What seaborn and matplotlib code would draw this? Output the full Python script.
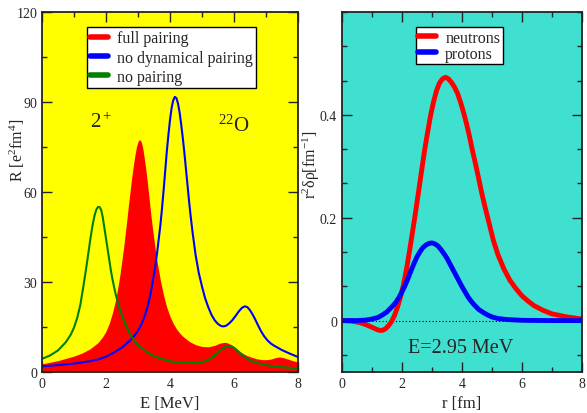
import numpy as np
import pandas as pd
import matplotlib
matplotlib.use('Agg')
import matplotlib.pyplot as plt
import matplotlib.ticker as mt
from matplotlib.lines import Line2D
import seaborn as sns

# left panel: strength functions R(E) for 22O, 2+
E_full = [0, 0.5, 1.0, 1.25, 1.5, 1.75, 1.9, 2.0, 2.1, 2.2, 2.3, 2.4, 2.45, 2.5, 2.55, 2.6,
          2.65, 2.7, 2.75, 2.8, 2.85, 2.9, 2.95, 3.0, 3.05, 3.1, 3.15, 3.2, 3.25, 3.3, 3.35,
          3.4, 3.45, 3.5, 3.55, 3.6, 3.65, 3.7, 3.8, 3.9, 4.0, 4.1, 4.2, 4.3, 4.4, 4.6, 4.8,
          5.0, 5.2, 5.4, 5.55, 5.7, 5.8, 5.93, 6.05, 6.15, 6.29, 6.4, 6.5, 6.71, 6.9, 7.0,
          7.15, 7.3, 7.4, 7.5, 7.6, 7.8, 8.0]
R_full = [2.7, 3.8, 5.3, 6.3, 7.7, 9.8, 11.8, 13.6, 16.2, 19.6, 24, 30, 33.5, 37.5, 41.5, 46,
          50.5, 55.5, 60, 64.5, 68.5, 72, 75, 76.8, 77.5, 76.8, 74.5, 71, 67, 62.5, 57.5,
          52.5, 48, 44, 40, 36.5, 33.5, 30.5, 25.5, 21.5, 18.5, 16.2, 14.4, 13.0, 11.9, 10.2, 9.1,
          8.5, 8.4, 8.9, 9.6, 9.9, 9.7, 9.0, 8.0, 7.1, 6.1, 5.5, 5.1, 4.4, 4.1, 4.1,
          4.3, 4.8, 5.0, 4.9, 4.6, 3.9, 3.3]

E_nodyn = [0, 0.5, 1.0, 1.5, 1.75, 2.0, 2.25, 2.5, 2.75, 2.9, 3.0, 3.1, 3.2, 3.3, 3.4, 3.5,
           3.55, 3.6, 3.65, 3.7, 3.75, 3.8, 3.85, 3.9, 3.95, 4.0, 4.05, 4.1, 4.15, 4.2, 4.25,
           4.3, 4.35, 4.4, 4.45, 4.5, 4.55, 4.6, 4.65, 4.7, 4.75, 4.8, 4.9, 5.0, 5.1, 5.2,
           5.3, 5.4, 5.5, 5.6, 5.67, 5.75, 5.85, 5.95, 6.05, 6.15, 6.25, 6.34, 6.42, 6.5,
           6.58, 6.66, 6.75, 6.85, 6.95, 7.05, 7.15, 7.25, 7.5, 7.75, 8.0]
R_nodyn = [1.9, 2.3, 2.8, 3.6, 4.2, 5.1, 6.5, 8.2, 10.5, 12.3, 13.8, 15.8, 18.4, 21.8, 26.5, 32.5,
           36, 40, 44.5, 49, 54.5, 60.5, 67, 73.5, 79, 84, 88, 90.5, 91.7, 91.3, 89.5,
           86.5, 82.5, 78, 73, 67.5, 62, 56.5, 51.5, 47, 43, 39, 33, 28.5, 24.5, 21.5,
           19, 17.2, 16.0, 15.3, 15.2, 15.4, 16.2, 17.3, 18.7, 20.2, 21.4, 21.9, 21.6, 20.6,
           19.2, 17.6, 15.6, 13.5, 11.8, 10.5, 9.5, 8.8, 7.3, 6.1, 5]

E_nopair = [0, 0.25, 0.5, 0.75, 0.9, 1.0, 1.1, 1.2, 1.3, 1.4, 1.5, 1.55, 1.6, 1.65, 1.7, 1.75,
            1.8, 1.85, 1.9, 1.95, 2.0, 2.05, 2.1, 2.15, 2.2, 2.3, 2.4, 2.5, 2.6, 2.75, 2.9,
            3.0, 3.25, 3.5, 3.75, 4.0, 4.25, 4.5, 4.75, 5.0, 5.15, 5.3, 5.45, 5.6, 5.7, 5.8,
            5.9, 6.0, 6.1, 6.2, 6.3, 6.4, 6.5, 6.6, 6.8, 7.0, 7.25, 7.5, 7.75, 8.0]
R_nopair = [4.4, 5.5, 7.2, 10.0, 12.5, 14.8, 18, 22.5, 29, 36, 43.5, 47, 50, 52.5, 54.2, 55,
            55, 54, 51.5, 48, 44.5, 41, 37.5, 34, 31, 26, 22, 18.8, 16, 12.6, 10.2,
            9, 6.8, 5.3, 4.3, 3.6, 3.2, 3.0, 3.0, 3.3, 3.8, 4.7, 6.0, 7.4, 8.2, 8.65,
            8.6, 8.1, 7.2, 6.2, 5.3, 4.5, 3.9, 3.4, 2.8, 2.3, 1.9, 1.6, 1.4, 1.2]

# right panel: transition densities at E = 2.95 MeV
r_n = [0, 0.3, 0.6, 0.8, 1.0, 1.15, 1.25, 1.35, 1.45, 1.55, 1.65, 1.75, 1.85, 1.95, 2.05,
       2.15, 2.25, 2.35, 2.45, 2.55, 2.65, 2.75, 2.85, 2.95, 3.05, 3.15, 3.25, 3.35, 3.45,
       3.55, 3.65, 3.75, 3.85, 3.95, 4.05, 4.15, 4.25, 4.35, 4.45, 4.55, 4.65, 4.75, 4.9,
       5.05, 5.2, 5.4, 5.6, 5.8, 6.0, 6.2, 6.4, 6.7, 7.0, 7.5, 8.0]
rho_n = [0, -0.001, -0.004, -0.008, -0.013, -0.017, -0.019, -0.019, -0.016, -0.01, -0.002,
         0.01, 0.026, 0.046, 0.07, 0.1, 0.135, 0.172, 0.21, 0.25, 0.29, 0.33, 0.365, 0.398,
         0.425, 0.447, 0.462, 0.47, 0.473, 0.47, 0.463, 0.454, 0.442, 0.425, 0.405, 0.383,
         0.358, 0.33, 0.305, 0.278, 0.25, 0.225, 0.19, 0.155, 0.128, 0.1, 0.078, 0.062,
         0.048, 0.038, 0.029, 0.02, 0.013, 0.007, 0.003]

r_p = [0, 0.5, 0.8, 1.0, 1.2, 1.35, 1.5, 1.6, 1.7, 1.8, 1.9, 2.0, 2.1, 2.2, 2.3, 2.4, 2.5,
       2.6, 2.7, 2.8, 2.9, 3.0, 3.1, 3.2, 3.3, 3.4, 3.5, 3.6, 3.7, 3.8, 3.9, 4.0, 4.1, 4.2,
       4.3, 4.4, 4.55, 4.7, 4.85, 5.0, 5.2, 5.5, 6.0, 7.0, 8.0]
rho_p = [0, 0, 0.001, 0.003, 0.006, 0.011, 0.017, 0.023, 0.029, 0.036, 0.045, 0.056, 0.068,
         0.082, 0.097, 0.111, 0.124, 0.134, 0.142, 0.147, 0.150, 0.151, 0.149, 0.145, 0.138,
         0.13, 0.121, 0.11, 0.099, 0.088, 0.077, 0.066, 0.056, 0.046, 0.038, 0.031, 0.022,
         0.016, 0.011, 0.007, 0.004, 0.002, 0.0005, 0, 0]

sns.set_style("ticks")
plt.rcParams['font.family'] = ['Liberation Serif', 'DejaVu Serif']
plt.rcParams['mathtext.fontset'] = 'custom'
plt.rcParams['mathtext.rm'] = 'Liberation Serif'
plt.rcParams['mathtext.it'] = 'Liberation Serif:italic'

fig = plt.figure(figsize=(5.87, 4.14), dpi=100)
ax1 = fig.add_axes([42/587, 41/414, 256/587, 360/414])
ax2 = fig.add_axes([342/587, 41/414, 240/587, 360/414])

ax1.set_facecolor('#ffff00')
ax2.set_facecolor('#40e0d0')

# ---- left
ax1.fill_between(E_full, R_full, 0, color='red', lw=0, zorder=1)
sns.lineplot(x=E_nodyn, y=R_nodyn, ax=ax1, color='blue', lw=1.5, zorder=3)
sns.lineplot(x=E_nopair, y=R_nopair, ax=ax1, color='green', lw=1.5, zorder=4)
ax1.set_xlim(0, 8)
ax1.set_ylim(0, 120)
ax1.xaxis.set_major_locator(mt.MultipleLocator(2))
ax1.xaxis.set_minor_locator(mt.MultipleLocator(1))
ax1.yaxis.set_major_locator(mt.MultipleLocator(30))
ax1.yaxis.set_minor_locator(mt.MultipleLocator(15))
ax1.set_xlabel('E [MeV]', fontsize=12)
ax1.set_ylabel('R [e$^2$fm$^4$]', fontsize=11.5)
ax1.yaxis.set_label_coords(-0.059, 0.619)
ax1.text(1.5, 81.8, '2$^+$', fontsize=15)
ax1.text(5.5, 80.5, '$^{22}$O', fontsize=15)

h1 = [Line2D([], [], color='red', lw=4),
      Line2D([], [], color='blue', lw=4),
      Line2D([], [], color='green', lw=4)]
leg1 = ax1.legend(h1, ['full pairing', 'no dynamical pairing', 'no pairing'],
                  loc='upper left', bbox_to_anchor=(0.176, 0.958), borderaxespad=0,
                  fontsize=11.5, fancybox=False, framealpha=1, edgecolor='black',
                  handlelength=1.1, handletextpad=0.6, labelspacing=0.2, borderpad=0.2)
leg1.get_frame().set_linewidth(1.0)

# ---- right
ax2.axhline(0, color='black', lw=0.8, ls=(0, (1, 2)), zorder=1)
sns.lineplot(x=r_n, y=rho_n, ax=ax2, color='red', lw=3.5, zorder=3)
sns.lineplot(x=r_p, y=rho_p, ax=ax2, color='blue', lw=3.5, zorder=4)
ax2.set_xlim(0, 8)
ax2.set_ylim(-0.1, 0.6)
ax2.xaxis.set_major_locator(mt.MultipleLocator(2))
ax2.xaxis.set_minor_locator(mt.MultipleLocator(1))
ax2.set_yticks([0, 0.2, 0.4])
ax2.yaxis.set_minor_locator(mt.MultipleLocator(0.2/3))
ax2.yaxis.set_major_formatter(mt.FuncFormatter(lambda v, p: '%g' % v))
ax2.set_xlabel('r [fm]', fontsize=12)
ax2.set_ylabel('r$^2$δρ[fm$^{-1}$]', fontsize=11.5)
ax2.yaxis.set_label_coords(-0.083, 0.58)
ax2.text(2.21, -0.061, 'E=2.95 MeV', fontsize=14.5)

h2 = [Line2D([], [], color='red', lw=4),
      Line2D([], [], color='blue', lw=4)]
leg2 = ax2.legend(h2, ['neutrons', 'protons'],
                  loc='upper left', bbox_to_anchor=(0.307, 0.958), borderaxespad=0,
                  fontsize=11.5, fancybox=False, framealpha=1, edgecolor='black',
                  handlelength=1.1, handletextpad=0.6, labelspacing=0.0, borderpad=0.15)
leg2.get_frame().set_linewidth(1.0)

for ax in (ax1, ax2):
    ax.tick_params(which='both', direction='in', top=True, right=True,
                   labelsize=10, width=1.0, color='#222222')
    ax.tick_params(which='major', length=7)
    ax.tick_params(which='minor', length=3.5)
    for s in ax.spines.values():
        s.set_linewidth(1.3)
        s.set_color('#222222')
        s.set_zorder(5)

fig.savefig('out.png', dpi=100)
